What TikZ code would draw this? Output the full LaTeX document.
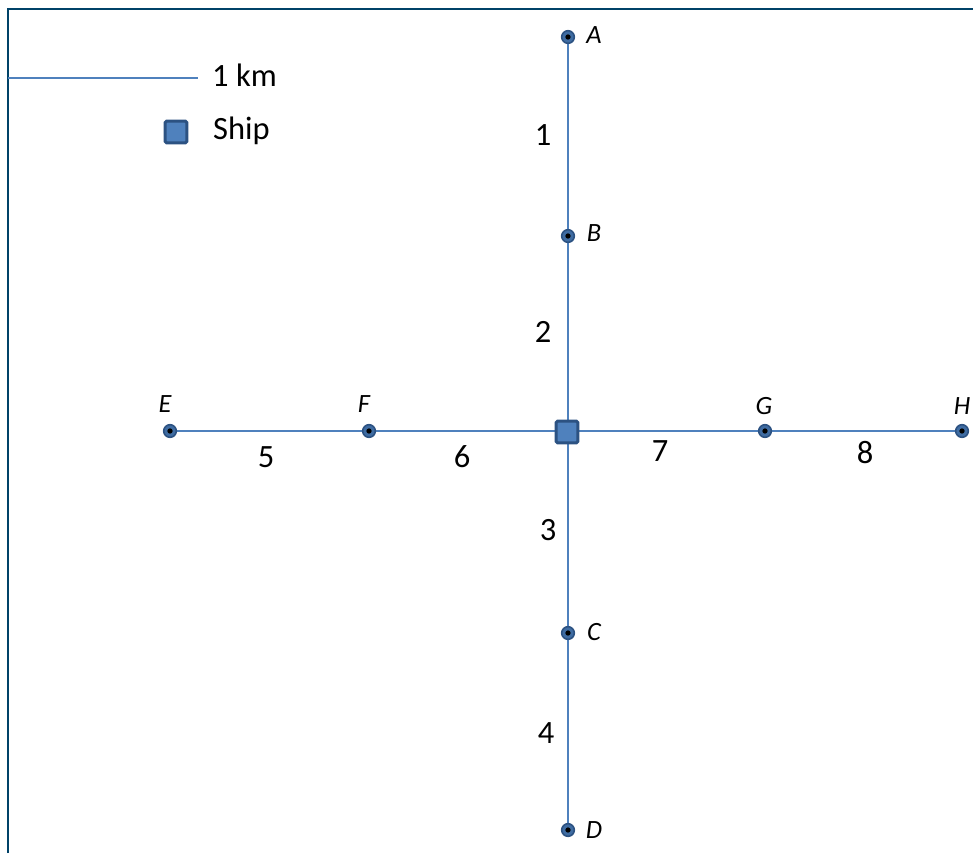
\documentclass[tikz,border=0pt]{standalone}
\usepackage{fontspec}
\setmainfont{Carlito}
\definecolor{mapL}{RGB}{79,129,189}
\definecolor{mapD}{RGB}{44,82,130}
\definecolor{mapF}{RGB}{0,66,104}
\tikzset{
  leg/.style={draw=mapL,line width=1.3pt},
  pt/.style={circle,fill=mapL!55!mapD,draw=mapD,line width=0.9pt,inner sep=0pt,minimum size=7.2pt},
  shipbox/.style={rectangle,fill=mapL,draw=mapD,line width=1.7pt,rounded corners=1pt,inner sep=0pt,minimum size=12.5pt},
  ptlab/.style={font=\fontsize{15}{17}\selectfont\itshape},
  seglab/.style={font=\fontsize{18.5}{22}\selectfont}
}
\begin{document}
\begin{tikzpicture}[x=0.02cm,y=-0.02cm]
\useasboundingbox (0,0) rectangle (973,853);
% frame
\draw[mapF,line width=1.3pt] (8,853) -- (8,9) -- (973,9);
% legend
\coordinate (s0) at (8,78);
\node[seglab,anchor=west] (km) at (206,75) {1 km};
\draw[leg,line width=0.8pt] (s0) -- (198,78);
\node[shipbox] (legship) at (176,132) {};
\node[seglab,anchor=west] (shiptxt) at (207,131) {Ship};
% points
\foreach \n/\x/\y in {A/568/37,B/568/236,C/568/633,D/568/830,E/170/431,F/369/431,G/765/431,H/962/431}
  \coordinate (\n) at (\x,\y);
% legs
\draw[leg] (A) -- (D);
\draw[leg] (E) -- (H);
\foreach \n in {A,B,C,D,E,F,G,H} {
  \node[pt] (p\n) at (\n) {};
  \fill[black] (\n) circle (1.5pt);
}
\node[shipbox] (ship) at (567,432) {};
% point labels
\node[ptlab] (lA) at (594,35) {A};
\node[ptlab] (lB) at (594,233) {B};
\node[ptlab] (lC) at (594,632) {C};
\node[ptlab] (lD) at (594,830) {D};
\node[ptlab] (lE) at (165,404) {E};
\node[ptlab] (lF) at (364,404) {F};
\node[ptlab] (lG) at (764,406) {G};
\node[ptlab] (lH) at (962,406) {H};
% distances
\foreach \t/\x/\y in {1/543/135,2/543/332,3/548/530,4/546/733,5/266/457,6/462/457,7/660/451,8/865/453}
  \node[seglab] (d\t) at (\x,\y) {\t};
\end{tikzpicture}
\end{document}
